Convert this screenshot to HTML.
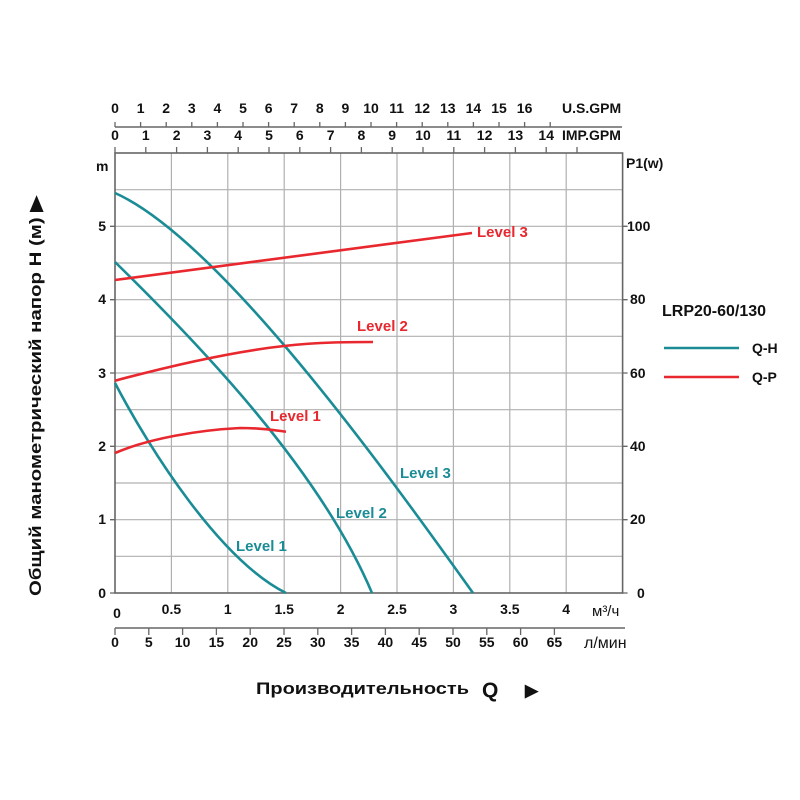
<!DOCTYPE html>
<html><head><meta charset="utf-8"><style>
html,body{margin:0;padding:0;background:#fff}
svg{display:block;font-family:"Liberation Sans",Arial,sans-serif;font-weight:bold}
</style></head><body>
<svg width="800" height="800" viewBox="0 0 800 800" xmlns="http://www.w3.org/2000/svg">
<g stroke="#b0b0b0" stroke-width="1.2">
<line x1="171.4" y1="153" x2="171.4" y2="593"/>
<line x1="227.8" y1="153" x2="227.8" y2="593"/>
<line x1="284.2" y1="153" x2="284.2" y2="593"/>
<line x1="340.6" y1="153" x2="340.6" y2="593"/>
<line x1="397" y1="153" x2="397" y2="593"/>
<line x1="453.4" y1="153" x2="453.4" y2="593"/>
<line x1="509.8" y1="153" x2="509.8" y2="593"/>
<line x1="566.2" y1="153" x2="566.2" y2="593"/>
<line x1="115" y1="556.3" x2="622.6" y2="556.3"/>
<line x1="115" y1="519.7" x2="622.6" y2="519.7"/>
<line x1="115" y1="483" x2="622.6" y2="483"/>
<line x1="115" y1="446.3" x2="622.6" y2="446.3"/>
<line x1="115" y1="409.7" x2="622.6" y2="409.7"/>
<line x1="115" y1="373" x2="622.6" y2="373"/>
<line x1="115" y1="336.3" x2="622.6" y2="336.3"/>
<line x1="115" y1="299.7" x2="622.6" y2="299.7"/>
<line x1="115" y1="263" x2="622.6" y2="263"/>
<line x1="115" y1="226.3" x2="622.6" y2="226.3"/>
<line x1="115" y1="189.7" x2="622.6" y2="189.7"/>
</g>
<g stroke="#666" stroke-width="1.6" fill="none">
<rect x="115" y="153" width="507.6" height="440"/>
<line x1="115" y1="127" x2="622" y2="127"/>
<line x1="115" y1="628" x2="625" y2="628"/>
</g>
<g stroke="#666" stroke-width="1.3">
<path d="M115 127v-5M140.6 127v-5M166.2 127v-5M191.8 127v-5M217.4 127v-5M243 127v-5M268.6 127v-5M294.2 127v-5M319.8 127v-5M345.4 127v-5M371 127v-5M396.6 127v-5M422.2 127v-5M447.8 127v-5M473.4 127v-5M499 127v-5M524.6 127v-5M550.2 127v-5"/>
<path d="M115 153v-6M145.8 153v-6M176.6 153v-6M207.4 153v-6M238.2 153v-6M269 153v-6M299.8 153v-6M330.6 153v-6M361.4 153v-6M392.2 153v-6M423 153v-6M453.8 153v-6M484.6 153v-6M515.4 153v-6M546.2 153v-6M577 153v-6"/>
<path d="M115 628v7M148.8 628v7M182.6 628v7M216.4 628v7M250.2 628v7M284 628v7M317.8 628v7M351.6 628v7M385.4 628v7M419.2 628v7M453 628v7M486.8 628v7M520.6 628v7M554.4 628v7"/>
<path d="M110 593h5M110 519.7h5M110 446.3h5M110 373h5M110 299.7h5M110 226.3h5M622.6 593h5M622.6 519.7h5M622.6 446.3h5M622.6 373h5M622.6 299.7h5M622.6 226.3h5"/>
</g>
<g font-size="14" fill="#111" text-anchor="middle">
<text x="115" y="113">0</text><text x="140.6" y="113">1</text><text x="166.2" y="113">2</text><text x="191.8" y="113">3</text><text x="217.4" y="113">4</text><text x="243" y="113">5</text><text x="268.6" y="113">6</text><text x="294.2" y="113">7</text><text x="319.8" y="113">8</text><text x="345.4" y="113">9</text><text x="371" y="113">10</text><text x="396.6" y="113">11</text><text x="422.2" y="113">12</text><text x="447.8" y="113">13</text><text x="473.4" y="113">14</text><text x="499" y="113">15</text><text x="524.6" y="113">16</text>
<text x="115" y="140">0</text><text x="145.8" y="140">1</text><text x="176.6" y="140">2</text><text x="207.4" y="140">3</text><text x="238.2" y="140">4</text><text x="269" y="140">5</text><text x="299.8" y="140">6</text><text x="330.6" y="140">7</text><text x="361.4" y="140">8</text><text x="392.2" y="140">9</text><text x="423" y="140">10</text><text x="453.8" y="140">11</text><text x="484.6" y="140">12</text><text x="515.4" y="140">13</text><text x="546.2" y="140">14</text>
<text x="117" y="618">0</text><text x="171.4" y="614">0.5</text><text x="227.8" y="614">1</text><text x="284.2" y="614">1.5</text><text x="340.6" y="614">2</text><text x="397" y="614">2.5</text><text x="453.4" y="614">3</text><text x="509.8" y="614">3.5</text><text x="566.2" y="614">4</text>
<text x="115" y="647">0</text><text x="148.8" y="647">5</text><text x="182.6" y="647">10</text><text x="216.4" y="647">15</text><text x="250.2" y="647">20</text><text x="284" y="647">25</text><text x="317.8" y="647">30</text><text x="351.6" y="647">35</text><text x="385.4" y="647">40</text><text x="419.2" y="647">45</text><text x="453" y="647">50</text><text x="486.8" y="647">55</text><text x="520.6" y="647">60</text><text x="554.4" y="647">65</text>
</g>
<g font-size="14" fill="#111">
<text x="562" y="113">U.S.GPM</text><text x="562" y="140">IMP.GPM</text>
<text x="592" y="616" font-weight="normal" font-size="15">м³/ч</text>
<text x="584" y="648" font-weight="normal" font-size="16">л/мин</text>
<text x="96" y="171">m</text>
<text x="626" y="168">P1(w)</text>
<g text-anchor="end"><text x="106" y="598">0</text><text x="106" y="524">1</text><text x="106" y="451">2</text><text x="106" y="378">3</text><text x="106" y="304">4</text><text x="106" y="231">5</text></g>
<text x="637" y="598">0</text><text x="630" y="524">20</text><text x="630" y="451">40</text><text x="630" y="378">60</text><text x="630" y="304">80</text><text x="627" y="231">100</text>
</g>
<text x="662" y="316" font-size="16" fill="#111">LRP20-60/130</text>
<line x1="664" y1="348" x2="739" y2="348" stroke="#1a8c96" stroke-width="2.5"/>
<line x1="664" y1="377" x2="739" y2="377" stroke="#e8282e" stroke-width="2.5"/>
<text x="752" y="353" font-size="14" fill="#111">Q-H</text>
<text x="752" y="382" font-size="14" fill="#111">Q-P</text>
<text x="256" y="694" font-size="17" fill="#111" textLength="213" lengthAdjust="spacingAndGlyphs">Производительность</text>
<text x="482" y="697" font-size="21" fill="#111">Q</text>
<text x="525" y="696" font-size="17" fill="#111">▶</text>
<text transform="translate(41,396) rotate(-90)" text-anchor="middle" font-size="17" fill="#111" textLength="400" lengthAdjust="spacingAndGlyphs">Общий манометрический напор H (м) ▶</text>
<g fill="none" stroke="#1a8c96" stroke-width="2.6">
<path d="M115 193 C220 240 385 470 473 593"/>
<path d="M115 262 C200 345 320 470 372 593"/>
<path d="M115 383 C150 450 220 560 286 593"/>
</g>
<g fill="none" stroke="#e8282e" stroke-width="2.6">
<path d="M115 280 C200 268 320 254 472 233"/>
<path d="M115 380.7 C170 366 230 352 284 346 C320 342 350 342 373 342"/>
<path d="M115 453 C150 438 200 430 240 428 C265 428 280 431 286 431.7"/>
</g>
<g font-size="15">
<text x="477" y="237" fill="#e8282e">Level 3</text>
<text x="357" y="331" fill="#e8282e">Level 2</text>
<text x="270" y="421" fill="#e8282e">Level 1</text>
<text x="400" y="478" fill="#1a8c96">Level 3</text>
<text x="336" y="518" fill="#1a8c96">Level 2</text>
<text x="236" y="551" fill="#1a8c96">Level 1</text>
</g>
</svg>
</body></html>
